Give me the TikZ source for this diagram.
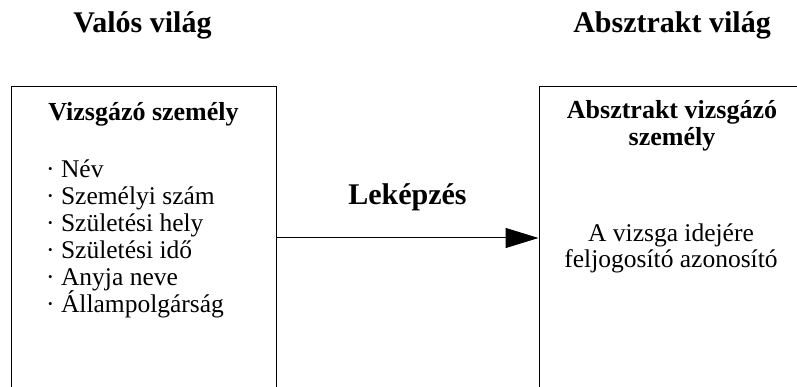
\documentclass[tikz,border=0pt]{standalone}
\usepackage{fontspec}
\setmainfont{Liberation Serif}
\usetikzlibrary{arrows.meta}

\tikzset{
  vilag/.style={font=\fontsize{30}{36}\selectfont\bfseries, anchor=base, inner sep=0pt},
  doboz/.style={draw, line width=1pt, minimum width=265pt, minimum height=302pt, inner sep=0pt},
  fejlec/.style={font=\fontsize{26}{27}\selectfont\bfseries, anchor=base, inner sep=0pt},
  sor/.style={font=\fontsize{25.5}{26}\selectfont, anchor=base west, inner sep=0pt},
}

\begin{document}
\begin{tikzpicture}[x=1pt, y=-1pt]
  \useasboundingbox (0,0) rectangle (797,387);
  \clip (0,0) rectangle (797,387);
  % Worlds
  \node[vilag] (valoscim) at (142.5,33) {Valós világ};
  \node[vilag] (absztraktcim) at (672,33) {Absztrakt világ};
  % Boxes (bottom edge lies below the page)
  \node[doboz] (valos) at (143.5,238) {};
  \node[doboz] (absztrakt) at (671.5,238) {};
  % Mapping
  \draw[line width=1pt, -{Triangle[length=33pt, width=20pt]}] (valos.east) -- (absztrakt.west);
  \node[vilag] (lekepzes) at (407.5,205) {Leképzés};
  % Real person
  \node[fejlec] (szemely) at (143.5,121) {Vizsgázó személy};
  \foreach \adat [count=\i from 0] in {Név, Személyi szám, Születési hely,
      Születési idő, Anyja neve, Állampolgárság}
    \node[sor] (adat\i) at (46,{178+26.8*\i}) {·\ \adat};
  % Abstract person
  \node[fejlec] (absztraktfej) at (672,119) {Absztrakt vizsgázó};
  \node[fejlec] (absztraktfej2) at (672,146) {személy};
  \node[sor, anchor=base] (azonosito1) at (671,241) {A vizsga idejére};
  \node[sor, anchor=base] (azonosito2) at (671,267) {feljogosító azonosító};
\end{tikzpicture}
\end{document}
